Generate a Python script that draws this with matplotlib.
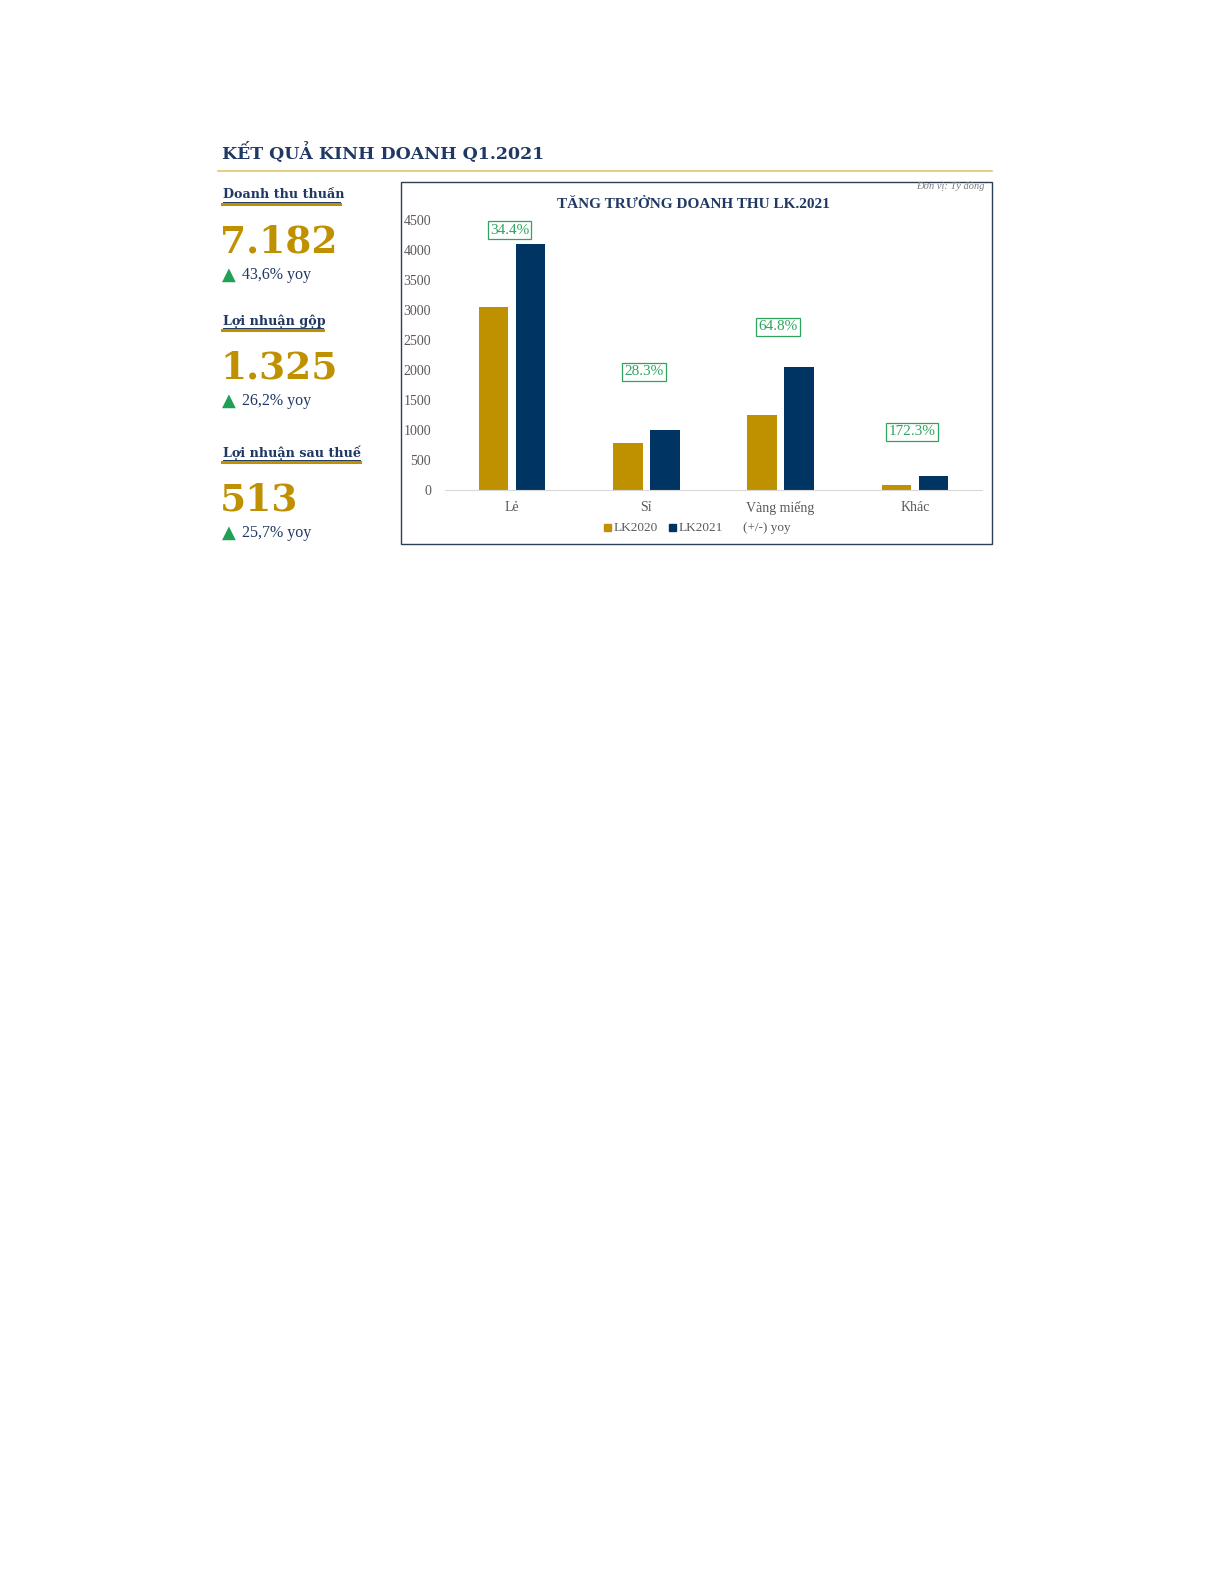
import matplotlib
matplotlib.use("Agg")
import matplotlib.pyplot as plt
import numpy as np
from matplotlib.patches import Rectangle

# data
categories = ["Lẻ", "Sỉ", "Vàng miếng", "Khác"]
lk2020 = [3050, 780, 1244, 83]
lk2021 = [4100, 1000, 2050, 226]
yoy = [34.4, 28.3, 64.8, 172.3]
yticks = [0, 500, 1000, 1500, 2000, 2500, 3000, 3500, 4000, 4500]

kpi_names = ["Doanh thu thuần", "Lợi nhuận gộp", "Lợi nhuận sau thuế"]
kpi_values = ["7.182", "1.325", "513"]
kpi_growth = ["43,6% yoy", "26,2% yoy", "25,7% yoy"]

GOLD = "#BF9000"
NAVY = "#003462"
DARK = "#1F3864"
GREEN = "#2EA45E"
GRAY = "#595959"
SERIF = "DejaVu Serif"
LSERIF = "Liberation Serif"

W, H = 1225, 1585
fig = plt.figure(figsize=(W / 100, H / 100), dpi=100)
fig.patch.set_facecolor("white")

# overlay in pixel coordinates for decorations
ov = fig.add_axes([0, 0, 1, 1])
ov.set_xlim(0, W)
ov.set_ylim(H, 0)
ov.axis("off")

ov.text(222, 153, "KẾT QUẢ KINH DOANH Q1.2021", fontsize=12.5, fontweight="bold",
        color=DARK, family=SERIF, va="center", ha="left")
ov.plot([218, 992], [170.5, 170.5], color="#E3C56A", lw=1.2)

# left panel
head_y = [195, 321, 453]
line_w = [118, 101, 138]
for i in range(3):
    y0 = head_y[i]
    ov.text(223, y0, kpi_names[i], fontsize=9.2, fontweight="bold", color=DARK,
            family=SERIF, va="center", ha="left")
    ov.plot([223, 222 + line_w[i]], [y0 + 6.5, y0 + 6.5], color=DARK, lw=0.7)
    ov.plot([222, 222 + line_w[i]], [y0 + 9, y0 + 9], color=GOLD, lw=2.2)
    ov.text(220, y0 + 47, kpi_values[i], fontsize=27, fontweight="bold", color=GOLD,
            family=SERIF, va="center", ha="left")
    ov.text(222, y0 + 80, "▲", fontsize=13, color="#1FA055", family="DejaVu Sans",
            va="center", ha="left")
    ov.text(242, y0 + 80, kpi_growth[i], fontsize=11.5, color=DARK, family=LSERIF,
            va="center", ha="left")

# chart frame
ov.add_patch(Rectangle((400.5, 181.5), 591, 362, fill=False, edgecolor="#2B3F55", lw=1.0))
ov.text(693, 204, "TĂNG TRƯỞNG DOANH THU LK.2021", fontsize=11, fontweight="bold",
        color=DARK, family=LSERIF, va="center", ha="center")
ov.text(985, 187, "Đơn vị: Tỷ đồng", fontsize=7.5, style="italic", color="#7F7F7F",
        family=LSERIF, va="center", ha="right")

# bar chart
ax = fig.add_axes([445 / W, 1 - 490 / H, 537 / W, 270 / H])
x = np.arange(len(categories))
bw = 0.22
off = 0.138
ax.bar(x - off, lk2020, bw, color=GOLD, label="LK2020", zorder=2)
ax.bar(x + off, lk2021, bw, color=NAVY, label="LK2021", zorder=2)
ax.set_xlim(-0.5, 3.5)
ax.set_ylim(0, 4500)
ax.set_yticks(yticks)
ax.set_yticklabels([str(t) for t in yticks], fontsize=10, color=GRAY, family=LSERIF)
ax.set_xticks(x)
ax.set_xticklabels(categories, fontsize=10, color=GRAY, family=LSERIF)
ax.tick_params(axis="both", length=0)
ax.tick_params(axis="y", pad=10)
ax.tick_params(axis="x", pad=8)
for s in ["top", "right", "left"]:
    ax.spines[s].set_visible(False)
ax.spines["bottom"].set_color("#D9D9D9")
ax.patch.set_alpha(0)

label_y = [4330, 1967, 2717, 967]
for i in range(len(categories)):
    ax.text(x[i] - 0.02, label_y[i], f"{yoy[i]:.1f}%", fontsize=11, color=GREEN,
            family=LSERIF, ha="center", va="center",
            bbox=dict(boxstyle="square,pad=0.15", fc="white", ec=GREEN, lw=0.9))

# legend
ov.add_patch(Rectangle((604, 524), 7, 7, color=GOLD))
ov.text(614, 528, "LK2020", fontsize=9.5, color=GRAY, family=LSERIF, va="center")
ov.add_patch(Rectangle((669, 524), 7, 7, color=NAVY))
ov.text(679, 528, "LK2021", fontsize=9.5, color=GRAY, family=LSERIF, va="center")
ov.text(743, 528, "(+/-) yoy", fontsize=9.5, color=GRAY, family=LSERIF, va="center")

fig.savefig("out.png", dpi=100)
